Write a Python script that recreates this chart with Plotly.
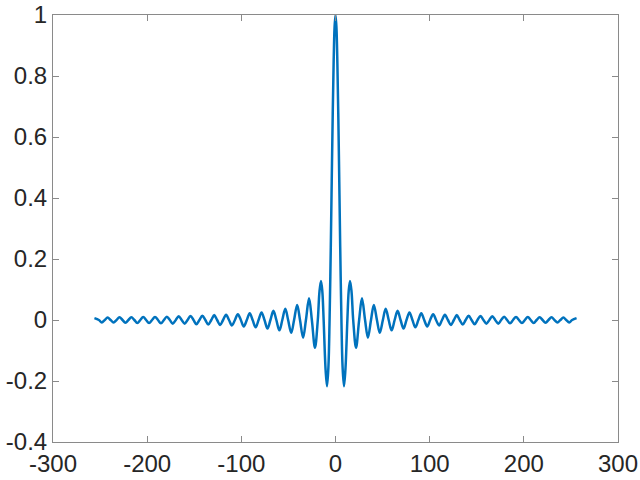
import plotly.graph_objects as go

# right half of the curve (left half is the mirror image)
x_half = [0, 1, 2, 3, 4, 5, 6.3, 7.5, 9.0, 10.5, 12.6, 14.0, 15.4, 17.0, 18.8,
          21.8, 25.1, 28.1, 31.4, 34.4, 37.7, 40.7, 44.0, 47.0, 50.3,
          53.3, 56.5, 59.6, 62.8, 65.9, 69.1, 72.2, 75.4, 78.5, 81.7,
          84.8, 88.0, 91.1, 94.2, 97.4, 100.5, 103.7, 106.8, 110.0, 113.1,
          116.2, 119.4, 122.5, 125.7, 128.8, 131.9, 135.1, 138.2, 141.4, 144.5,
          147.7, 150.8, 154.0, 157.1, 160.2, 163.4, 166.5, 169.6, 172.8, 175.9,
          179.1, 182.2, 185.4, 188.5, 191.7, 194.8, 198.0, 201.1, 204.2, 207.3,
          210.5, 213.6, 216.8, 219.9, 223.1, 226.2, 229.4, 232.5, 235.7, 238.8,
          242.0, 245.0, 248.2, 251.3, 256]
y_half = [1, 0.959, 0.841, 0.665, 0.455, 0.239, 0, -0.152, -0.217, -0.164, 0, 0.094, 0.128, 0.094, 0,
          -0.091, 0, 0.071, 0, -0.058, 0, 0.049, 0, -0.042, 0,
          0.037, 0, -0.034, 0, 0.030, 0, -0.028, 0, 0.025, 0,
          -0.024, 0, 0.022, 0, -0.021, 0, 0.019, 0, -0.018, 0,
          0.017, 0, -0.016, 0, 0.016, 0, -0.015, 0, 0.014, 0,
          -0.014, 0, 0.013, 0, -0.012, 0, 0.012, 0, -0.012, 0,
          0.011, 0, -0.011, 0, 0.010, 0, -0.010, 0, 0.010, 0,
          -0.010, 0, 0.009, 0, -0.009, 0, 0.009, 0, -0.008, 0,
          0.008, 0, -0.008, 0, 0.006]

x_ticks = [-300, -200, -100, 0, 100, 200, 300]
x_labels = ["-300", "-200", "-100", "0", "100", "200", "300"]
y_ticks = [-0.4, -0.2, 0, 0.2, 0.4, 0.6, 0.8, 1]
y_labels = ["-0.4", "-0.2", "0", "0.2", "0.4", "0.6", "0.8", "1"]

x = [-v for v in reversed(x_half[1:])] + x_half
y = list(reversed(y_half[1:])) + y_half

fig = go.Figure()
fig.add_trace(go.Scatter(x=x, y=y, mode="lines",
                         line=dict(color="#0072BD", width=2.5, shape="spline", smoothing=1)))

axis_style = dict(showgrid=False, zeroline=False, showline=True, mirror="ticks",
                  linecolor="#8a8a8a", linewidth=1, ticks="inside", ticklen=6,
                  tickcolor="#8a8a8a", automargin=False,
                  tickfont=dict(family="Liberation Sans", size=24, color="#262626"))

fig.update_xaxes(range=[-300, 300], tickvals=x_ticks, ticktext=x_labels, **axis_style)
fig.update_yaxes(range=[-0.4, 1], tickvals=y_ticks, ticktext=y_labels, **axis_style)

fig.update_layout(width=640, height=480, showlegend=False,
                  plot_bgcolor="white", paper_bgcolor="white",
                  margin=dict(l=53, r=22, t=15, b=38))

# drop the default 8px page margin so the figure sits at the window's corner
fig.write_html("out.html", config={"displayModeBar": False},
               post_script="document.body.style.margin='0px';")
